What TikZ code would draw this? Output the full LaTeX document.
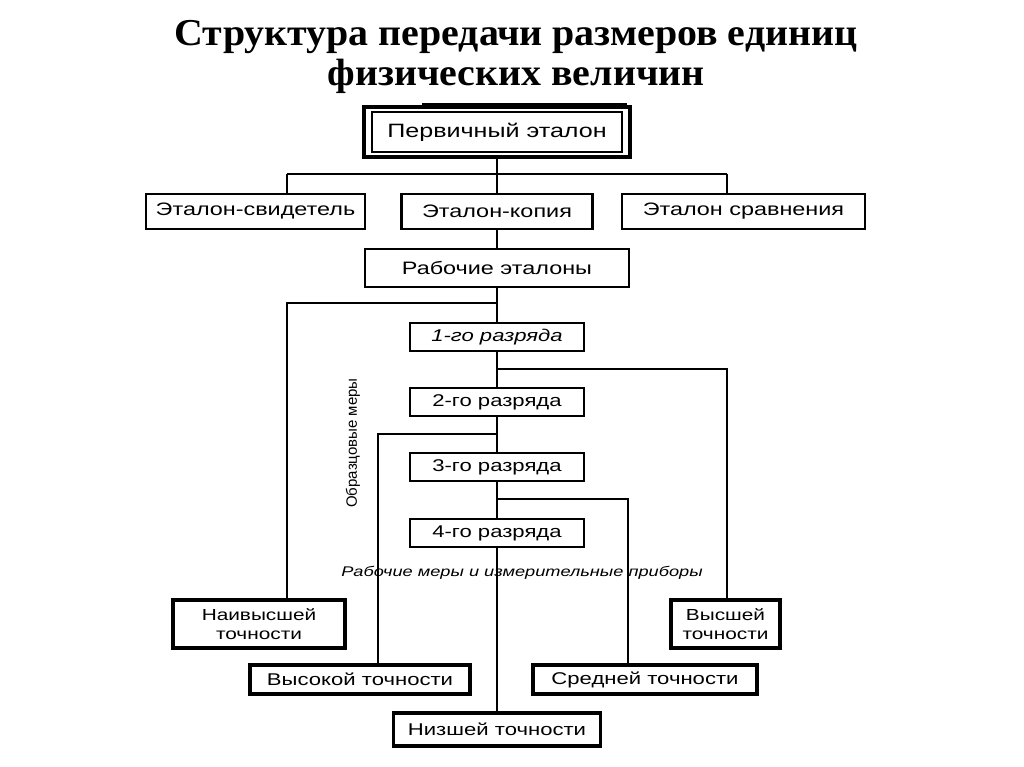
\documentclass[tikz,border=0pt]{standalone}
\usepackage{fontspec}
\setmainfont{Liberation Sans}
\newfontfamily\boxfont{Liberation Sans}[FakeStretch=1.3]
\newfontfamily\plainfont{Liberation Sans}
\newfontfamily\titlefont{Liberation Serif}[FakeStretch=1.05]
\begin{document}
\begin{tikzpicture}[x=1pt,y=-1pt,
  box/.style={draw,line width=2.6pt,rectangle,inner sep=0pt,align=center,
    font=\boxfont\fontsize{17}{20}\selectfont},
  bigbox/.style={box,line width=3.4pt},
  rbox/.style={box,minimum width=174pt,minimum height=28pt},
  conn/.style={line width=1.8pt},
  lbl/.style={inner sep=0pt,font=\plainfont\fontsize{15}{17}\selectfont}]
\useasboundingbox (0,0) rectangle (1024,767);
% title
\node[font=\titlefont\bfseries\fontsize{38}{39.5}\selectfont,align=center] (title) at (516,57)
  {Структура передачи размеров единиц\\физических величин};
% boxes
\node[box,line width=3.2pt,minimum width=266pt,minimum height=50pt] (prim) at (497,132) {};
\node[draw,line width=1.6pt,minimum width=250pt,minimum height=40pt,inner sep=0pt,
  font=\boxfont\fontsize{19.3}{22}\selectfont] (primin) at (prim.center) {Первичный эталон};
\coordinate (shA) at (422,104);
\coordinate (shB) at (627,104);
\draw[line width=1.6pt] (shA) -- (shB);
\node[box,minimum width=219pt,minimum height=35pt,font=\boxfont\fontsize{18}{20}\selectfont] (sv) at (255.5,211.5) {Эталон-свидетель};
\node[box,minimum width=191pt,minimum height=35pt,font=\boxfont\fontsize{18}{20}\selectfont] (kop) at (497,211.5) {Эталон-копия};
\node[box,minimum width=243pt,minimum height=35pt,font=\boxfont\fontsize{18}{20}\selectfont] (srav) at (743.5,211.5) {Эталон сравнения};
\node[box,minimum width=264pt,minimum height=38pt,font=\boxfont\fontsize{18}{20}\selectfont] (rab) at (497,268) {Рабочие эталоны};
\node[rbox] (r1) at (497,337) {\itshape 1-го разряда};
\node[rbox] (r2) at (497,402) {2-го разряда};
\node[rbox] (r3) at (497,467) {3-го разряда};
\node[rbox] (r4) at (497,533) {4-го разряда};
\node[bigbox,minimum width=172pt,minimum height=48pt,font=\boxfont\fontsize{16}{19.5}\selectfont] (nv) at (259,624) {Наивысшей\\точности};
\node[bigbox,minimum width=109pt,minimum height=48pt,font=\boxfont\fontsize{16}{19.5}\selectfont] (vs) at (725.5,624) {Высшей\\точности};
\node[bigbox,minimum width=220pt,minimum height=29pt] (vk) at (360,679.5) {Высокой точности};
\node[bigbox,minimum width=224pt,minimum height=29pt] (sr) at (645,679.5) {Средней точности};
\node[bigbox,minimum width=207pt,minimum height=33pt] (nz) at (497,729.5) {Низшей точности};
% labels
\node[lbl,rotate=90] (obr) at (353,443) {Образцовые меры};
\node[lbl,font=\boxfont\itshape\fontsize{14}{16}\selectfont] (rmi) at (522,573) {Рабочие меры и измерительные приборы};
% connectors
\coordinate (t1) at (497,174);
\coordinate (tL) at (287,174);
\coordinate (tR) at (727,174);
\draw[conn] (prim.south) -- (t1);
\draw[conn] (tL) -- (tR);
\draw[conn] (tL) -- (tL |- sv.north);
\draw[conn] (tR) -- (tR |- srav.north);
\draw[conn] (t1) -- (kop.north);
\draw[conn] (kop.south) -- (rab.north);
\draw[conn] (rab.south) -- (r1.north);
\draw[conn] (r1.south) -- (r2.north);
\draw[conn] (r2.south) -- (r3.north);
\draw[conn] (r3.south) -- (r4.north);
\draw[conn] (r4.south) -- (nz.north);
\coordinate (b1) at (497,303);
\coordinate (b2) at (497,369);
\coordinate (b3) at (497,434);
\coordinate (b4) at (497,499);
\draw[conn] (b1) -- (287,303) -- (287,0 |- nv.north);
\draw[conn] (b2) -- (727,369) -- (727,0 |- vs.north);
\draw[conn] (b3) -- (378,434) -- (378,0 |- vk.north);
\draw[conn] (b4) -- (628,499) -- (628,0 |- sr.north);
\end{tikzpicture}
\end{document}
